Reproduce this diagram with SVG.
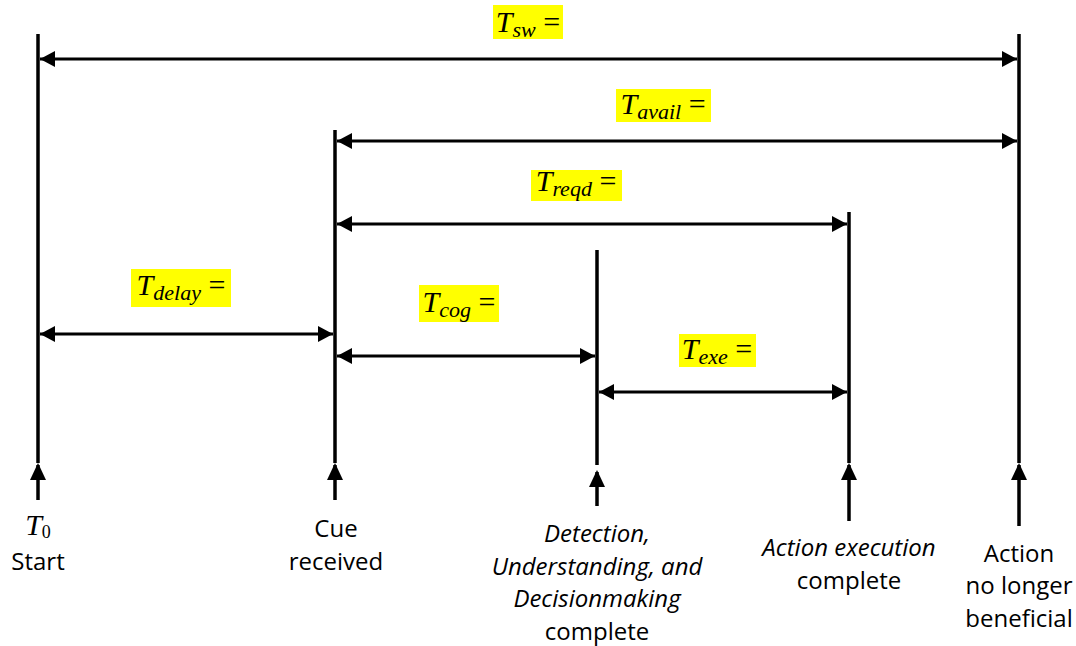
<svg xmlns="http://www.w3.org/2000/svg" width="1076" height="646" viewBox="0 0 1076 646">
  <style>
    .tick { stroke: #000; stroke-width: 3.5; fill: none; }
    .span { stroke: #000; stroke-width: 3; fill: none; marker-start: url(#head); marker-end: url(#head); }
    .up { stroke: #000; stroke-width: 3.5; fill: none; marker-end: url(#uphead); }
    .hl { fill: #ffff00; }
    .math { font-family: "Liberation Serif", "DejaVu Serif", serif; font-style: italic; font-size: 30px; fill: #000; }
    .sub { font-size: 22px; }
    .eq { font-style: normal; }
    .lbl { font-family: "Open Sans", "Liberation Sans", sans-serif; font-size: 24px; fill: #000; text-anchor: middle; }
    .it { font-style: italic; }
  </style>
  <defs>
    <marker id="head" markerUnits="userSpaceOnUse" markerWidth="16" markerHeight="16" refX="15" refY="8" orient="auto-start-reverse">
      <path d="M0,0 L15,8 L0,16 z" fill="#000"/>
    </marker>
    <marker id="uphead" markerUnits="userSpaceOnUse" markerWidth="17" markerHeight="17" refX="15" refY="8" orient="auto">
      <path d="M0,0 L17,8 L0,16 z" fill="#000"/>
    </marker>
  </defs>

  <rect width="1076" height="646" fill="#fff"/>

  <!-- event markers: vertical time lines -->
  <g id="t0-line"><line class="tick" x1="38" y1="34" x2="38" y2="463"/></g>
  <g id="cue-line"><line class="tick" x1="335" y1="130" x2="335" y2="463"/></g>
  <g id="decision-line"><line class="tick" x1="597" y1="250" x2="597" y2="465"/></g>
  <g id="execution-line"><line class="tick" x1="849" y1="212" x2="849" y2="463"/></g>
  <g id="end-line"><line class="tick" x1="1019" y1="34" x2="1019" y2="463"/></g>

  <!-- interval arrows between events -->
  <g id="connectors">
    <line class="span" x1="40" y1="59" x2="1017" y2="59"/>
    <line class="span" x1="337" y1="141" x2="1017" y2="141"/>
    <line class="span" x1="337" y1="224" x2="847" y2="224"/>
    <line class="span" x1="40" y1="334" x2="333" y2="334"/>
    <line class="span" x1="337" y1="356" x2="595" y2="356"/>
    <line class="span" x1="599" y1="392" x2="847" y2="392"/>

    <!-- pointers from labels up to the time lines -->
    <line class="up" x1="38" y1="500" x2="38" y2="465"/>
    <line class="up" x1="335" y1="500" x2="335" y2="465"/>
    <line class="up" x1="597" y1="506" x2="597" y2="472"/>
    <line class="up" x1="849" y1="521" x2="849" y2="465"/>
    <line class="up" x1="1019" y1="526" x2="1019" y2="465"/>
  </g>

  <!-- interval labels -->
  <g id="label-sw">
    <rect class="hl" x="493" y="5" width="70" height="34"/>
    <text class="math" x="528" y="32" text-anchor="middle">T<tspan class="sub" dy="5">sw</tspan><tspan class="eq" dy="-5"> =</tspan></text>
  </g>
  <g id="label-avail">
    <rect class="hl" x="616" y="89" width="95" height="33"/>
    <text class="math" x="663" y="114" text-anchor="middle">T<tspan class="sub" dy="5">avail</tspan><tspan class="eq" dy="-5"> =</tspan></text>
  </g>
  <g id="label-reqd">
    <rect class="hl" x="531" y="170" width="91" height="31"/>
    <text class="math" x="576" y="191" text-anchor="middle">T<tspan class="sub" dy="5">reqd</tspan><tspan class="eq" dy="-5"> =</tspan></text>
  </g>
  <g id="label-delay">
    <rect class="hl" x="131" y="269" width="100" height="38"/>
    <text class="math" x="181" y="295" text-anchor="middle">T<tspan class="sub" dy="5">delay</tspan><tspan class="eq" dy="-5"> =</tspan></text>
  </g>
  <g id="label-cog">
    <rect class="hl" x="419" y="285" width="80" height="37"/>
    <text class="math" x="459" y="312" text-anchor="middle">T<tspan class="sub" dy="5">cog</tspan><tspan class="eq" dy="-5"> =</tspan></text>
  </g>
  <g id="label-exe">
    <rect class="hl" x="679" y="334" width="77" height="33"/>
    <text class="math" x="717" y="359" text-anchor="middle">T<tspan class="sub" dy="5">exe</tspan><tspan class="eq" dy="-5"> =</tspan></text>
  </g>

  <!-- event captions -->
  <g id="event-start">
    <text class="math" x="38" y="535" text-anchor="middle" font-size="26">T<tspan class="eq" font-size="18" dy="3">0</tspan></text>
    <text class="lbl" x="38" y="570">Start</text>
  </g>
  <g id="event-cue">
    <text class="lbl" x="336" y="537">Cue</text>
    <text class="lbl" x="336" y="570">received</text>
  </g>
  <g id="event-decision">
    <text class="lbl it" x="597" y="542">Detection,</text>
    <text class="lbl it" x="597" y="575">Understanding, and</text>
    <text class="lbl it" x="597" y="607">Decisionmaking</text>
    <text class="lbl" x="597" y="640">complete</text>
  </g>
  <g id="event-execution">
    <text class="lbl it" x="849" y="556">Action execution</text>
    <text class="lbl" x="849" y="589">complete</text>
  </g>
  <g id="event-end">
    <text class="lbl" x="1019" y="562">Action</text>
    <text class="lbl" x="1019" y="594">no longer</text>
    <text class="lbl" x="1019" y="627">beneficial</text>
  </g>
</svg>
